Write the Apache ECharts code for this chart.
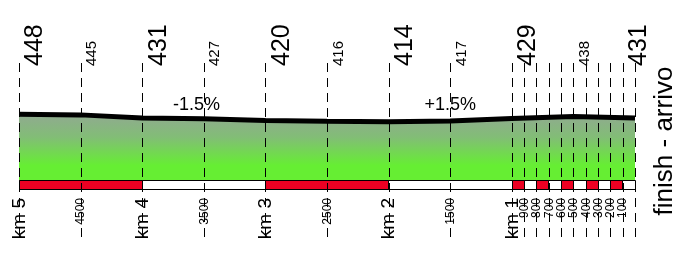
<!DOCTYPE html>
<html><head><meta charset="utf-8">
<script src="https://cdn.jsdelivr.net/npm/echarts@6/dist/echarts.min.js"></script>
<style>html,body{margin:0;padding:0;background:#fff}#c{width:697px;height:260px}</style>
</head><body><div id="c"></div>
<script>
// distance to finish (m) and elevation (m)
const profileDist = [5000, 4500, 4000, 3500, 3000, 2500, 2000, 1500, 1000, 500, 0];
const profileElev = [448, 445, 431, 427, 420, 416, 414, 417, 429, 438, 431];
// elevation labels on top
const topLabelDist = [5000, 4500, 4000, 3500, 3000, 2500, 2000, 1500, 1000, 500, 0];
const topLabelText = ['448', '445', '431', '427', '420', '416', '414', '417', '429', '438', '431'];
// distance ticks at the bottom
const tickDist = [5000, 4500, 4000, 3500, 3000, 2500, 2000, 1500, 1000, 900, 800, 700, 600, 500, 400, 300, 200, 100, 0];
const tickText = ['km 5', '4500', 'km 4', '3500', 'km 3', '2500', 'km 2', '1500', 'km 1', '900', '800', '700', '600', '500', '400', '300', '200', '100', ''];
// red segments on the distance bar
const redFrom = [5000, 3000, 1000, 800, 600, 400, 200];
const redTo = [4000, 2000, 900, 700, 500, 300, 100];
// gradient labels
const gradeDist = [3560, 1500];
const gradeText = ['-1.5%', '+1.5%'];
const finishText = 'finish - arrivo';

const FONT = "'Liberation Sans', Arial, sans-serif";
const chart = echarts.init(document.getElementById('c'), null, {renderer: 'canvas'});
const px = v => Math.round(v) + 0.5;

const option = {
  animation: false,
  grid: {left: 19, right: 62, top: 63, bottom: 80},
  xAxis: {type: 'value', min: 0, max: 5000, inverse: true, show: false},
  yAxis: {type: 'value', min: 150, max: 680, show: false},
  series: [
    {
      type: 'line',
      data: profileDist.map((d, i) => [d, profileElev[i]]),
      showSymbol: false,
      z: 1,
      lineStyle: {color: '#000', width: 5},
      areaStyle: {
        opacity: 1,
        color: new echarts.graphic.LinearGradient(0, 0, 0, 1, [
          {offset: 0, color: '#90aa90'},
          {offset: 0.35, color: '#82bd76'},
          {offset: 0.78, color: '#66ee33'},
          {offset: 1, color: '#66ee33'}
        ])
      }
    },
    {
      // distance bar: white background, then red segments
      type: 'custom',
      z: 2,
      data: [[5000, 0, 0]].concat(redFrom.map((f, i) => [f, redTo[i], 1])),
      renderItem: function (params, api) {
        const x1 = api.coord([api.value(0), 0])[0];
        const x2 = api.coord([api.value(1), 0])[0];
        const red = api.value(2) === 1;
        return {
          type: 'rect',
          shape: {x: px(x1), y: 180.5, width: Math.round(x2 - x1), height: 9},
          style: red ? {fill: '#ec0023', stroke: '#000', lineWidth: 1} : {fill: '#fff', stroke: '#000', lineWidth: 1}
        };
      }
    },
    {
      // dashed vertical lines and bottom labels
      type: 'custom',
      z: 3,
      data: tickDist.map((d, i) => [d, i]),
      renderItem: function (params, api) {
        const x = api.coord([api.value(0), 0])[0];
        const t = tickText[params.dataIndex];
        const major = t.indexOf('km') === 0;
        return {
          type: 'group',
          children: [
            {type: 'line', shape: {x1: px(x), y1: 63, x2: px(x), y2: 243},
             style: {stroke: '#000', lineWidth: 1, lineDash: [9, 6]}},
            {type: 'text', x: x + 0.5, y: 198, rotation: Math.PI / 2,
             style: {text: t, x: 0, y: 0, align: 'right', verticalAlign: 'middle',
                     font: (major ? 19 : 12) + 'px ' + FONT, fill: '#000'}}
          ]
        };
      }
    },
    {
      // elevation labels at the top
      type: 'custom',
      z: 4,
      data: topLabelDist.map((d, i) => [d, i]),
      renderItem: function (params, api) {
        const x = api.coord([api.value(0), 0])[0];
        const i = params.dataIndex;
        const major = topLabelDist[i] % 1000 === 0;
        const last = i === topLabelDist.length - 1;
        return {
          type: 'text', x: x + (last ? -8 : 4), y: 66, rotation: Math.PI / 2,
          style: {text: topLabelText[i], x: 0, y: 0, align: 'left', verticalAlign: 'top',
                  font: (major ? 25 : 15) + 'px ' + FONT, fill: '#000'}
        };
      }
    },
    {
      // gradient labels
      type: 'custom',
      z: 4,
      data: gradeDist.map((d, i) => [d, i]),
      renderItem: function (params, api) {
        const x = api.coord([api.value(0), 0])[0];
        return {
          type: 'text', x: x, y: 105,
          style: {text: gradeText[params.dataIndex], x: 0, y: 0, align: 'center', verticalAlign: 'middle',
                  font: '18px ' + FONT, fill: '#000'}
        };
      }
    },
    {
      // finish label
      type: 'custom',
      z: 4,
      data: [[0, 0]],
      renderItem: function (params, api) {
        const x = api.coord([api.value(0), 0])[0];
        return {
          type: 'text', x: x + 30, y: 141, rotation: Math.PI / 2,
          style: {text: finishText, x: 0, y: 0, align: 'center', verticalAlign: 'middle',
                  font: '26px ' + FONT, fill: '#000'}
        };
      }
    }
  ]
};
chart.setOption(option);
</script></body></html>
